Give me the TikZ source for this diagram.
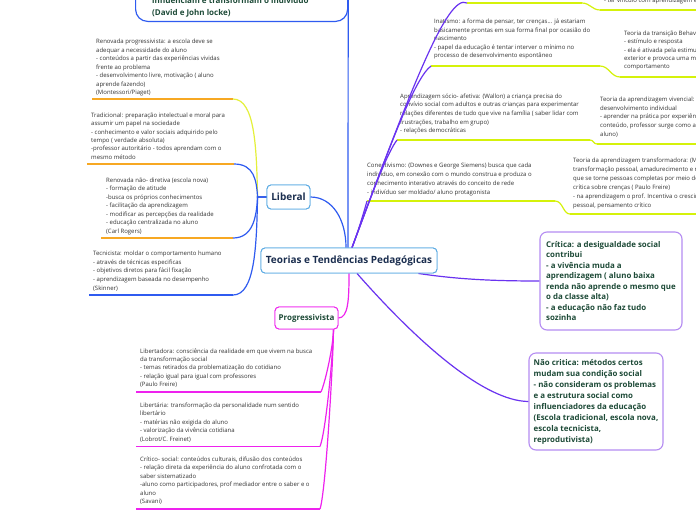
\documentclass[tikz,border=0pt]{standalone}
\usepackage{fontspec}
\setmainfont{Open Sans}
\usetikzlibrary{calc}
\definecolor{navy}{HTML}{1B2E4F}
\definecolor{dgreen}{HTML}{1D4A37}
\definecolor{txt}{HTML}{333333}
\definecolor{cblue}{HTML}{2F5BF0}
\definecolor{lblue}{HTML}{5AAAE3}
\definecolor{corange}{HTML}{F7A823}
\definecolor{cyel}{HTML}{E4F03A}
\definecolor{ygreen}{HTML}{D5F20A}
\definecolor{cmag}{HTML}{EE22EE}
\definecolor{cpurp}{HTML}{6A33F0}
\definecolor{lav}{HTML}{B58CF2}
\tikzset{
  detail/.style={anchor=north west, inner sep=0pt, align=left, text=txt, font=\fontsize{6}{#1}\selectfont},
  detail/.default=8.5,
  ul/.style={line width=1.8pt},
  conn/.style={line width=1.2pt},
  mainbox/.style={draw=lblue, line width=0.9pt, rounded corners=4pt, fill=white, text=navy,
    font=\bfseries\fontsize{10}{12}\selectfont, inner sep=0pt},
  progbox/.style={draw=cmag, line width=0.9pt, rounded corners=4pt, fill=white, text=dgreen,
    font=\bfseries\fontsize{8}{10}\selectfont, inner sep=0pt},
  critbox/.style={draw=lav, line width=1.1pt, rounded corners=7pt, fill=white, text=dgreen,
    align=left, font=\bfseries\fontsize{7.9}{#1}\selectfont, inner sep=0pt},
  critbox/.default=10.45
}
\begin{document}
\begin{tikzpicture}[x=1pt,y=-1pt]
\path[use as bounding box] (0,0) rectangle (696,520);
\clip (0,0) rectangle (696,520);
\fill[white] (0,0) rectangle (696,520);

% ---------- main nodes
\node[mainbox, minimum width=176pt, minimum height=25pt] (central) at (349,260.5) {Teorias e Tendências Pedagógicas};
\node[mainbox, minimum width=43pt, minimum height=24pt] (liberal) at (288.5,197) {Liberal};
\node[progbox, minimum width=63pt, minimum height=22pt] (prog) at (306.5,318) {Progressivista};

\node[critbox, minimum width=142pt, minimum height=98pt] (critica) at (611,281)
 {Crítica: a desigualdade social\\contribui\\- a vivência muda a\\aprendizagem ( aluno baixa\\renda não aprende o mesmo que\\o da classe alta)\\- a educação não faz tudo\\sozinha};
\node[critbox=11, minimum width=134pt, minimum height=97pt] (naocrit) at (596,401.5)
 {Não critica: métodos certos\\mudam sua condição social\\- não consideram os problemas\\e a estrutura social como\\influenciadores da educação\\(Escola tradicional, escola nova,\\escola tecnicista,\\reprodutivista)};

% top-left box (cut by the top edge)
\node[draw=cblue, line width=1.2pt, rounded corners=12pt, minimum width=212pt, minimum height=70pt,
      anchor=south west, inner sep=0pt] (topbox) at (135,22) {};
\node[anchor=north west, inner sep=0pt, align=left, text=dgreen, font=\bfseries\fontsize{8}{11.7}\selectfont]
  (toptext) at (152,-2.8) {influenciam e transformam o indivíduo\\(David e John locke)};

% ---------- Liberal children
\node[detail=8.45] (t1) at (96,39) {Renovada progressivista: a escola deve se\\adequar a necessidade do aluno\\- conteúdos a partir das experiências vividas\\frente ao problema\\- desenvolvimento livre, motivação ( aluno\\aprende fazendo)\\(Montessori/Piaget)};
\coordinate (u1a) at (92,99); \coordinate (u1b) at (233,99);
\node[detail=8.47] (t2) at (91,112.3) {Tradicional: preparação intelectual e moral para\\assumir um papel na sociedade\\- conhecimento e valor sociais adquirido pelo\\tempo ( verdade absoluta)\\-professor autoritário - todos aprendam com o\\mesmo método};
\coordinate (u2a) at (87,164); \coordinate (u2b) at (234,164);
\node[detail=8.45] (t3) at (106,177.6) {Renovada não- diretiva (escola nova)\\- formação de atitude\\-busca os próprios conhecimentos\\- facilitação da aprendizagem\\- modificar as percepções da realidade\\- educação centralizada no aluno\\(Carl Rogers)};
\coordinate (u3a) at (101,238); \coordinate (u3b) at (233,238);
\node[detail=8.75] (t4) at (93,250.6) {Tecnicista: moldar o comportamento humano\\- através de técnicas especificas\\- objetivos diretos para fácil fixação\\- aprendizagem baseada no desempenho\\(Skinner)};
\coordinate (u4a) at (89,295); \coordinate (u4b) at (233,295);

\draw[ul, corange] (u1a) -- (u1b);
\draw[ul, corange] (u2a) -- (u2b);
\draw[ul, corange] (u3a) -- (u3b);
\draw[ul, cblue] (u4a) -- (u4b);

\draw[conn, cyel] (liberal.west) -- ++(-9,0) .. controls +(-1,-49) and +(22,0) .. (u1b);
\draw[conn, cblue] (liberal.west) -- ++(-9,0) .. controls +(-1,-17) and +(20,0) .. (u2b);
\draw[conn, cblue] (liberal.west) -- ++(-9,0) .. controls +(-1,20) and +(20,0) .. (u3b);
\draw[conn, cblue] (liberal.west) -- ++(-9,0) .. controls +(-1,49) and +(22,0) .. (u4b);

% ---------- Progressivista children
\node[detail=8.3] (t5) at (140,348.3) {Libertadora: consciência da realidade em que vivem na busca\\da transformação social\\- temas retirados da problematização do cotidiano\\- relação igual para igual com professores\\(Paulo Freire)};
\coordinate (u5a) at (136,392); \coordinate (u5b) at (321,392);
\node[detail=8.6] (t6) at (140,402.3) {Libertária: transformação da personalidade num sentido\\libertário\\- matérias não exigida do aluno\\- valorização da vivência cotidiana\\(Lobrot/C. Freinet)};
\coordinate (u6a) at (136,446.5); \coordinate (u6b) at (320,446.5);
\node[detail=8.5] (t7) at (140,456.3) {Crítico- social: conteúdos culturais, difusão dos conteúdos\\- relação direta da experiência do aluno confrotada com o\\saber sistematizado\\-aluno como participadores, prof mediador entre o saber e o\\aluno\\(Savani)};
\coordinate (u7a) at (136,509); \coordinate (u7b) at (320,509);

\draw[ul, cmag] (u5a) -- (u5b);
\draw[ul, cmag] (u6a) -- (u6b);
\draw[ul, cmag] (u7a) -- (u7b);
\coordinate (ps) at ($(prog.south east)+(-5,0)$);
\draw[conn, cmag] (ps) .. controls +(0,15) and +(5,-12) .. (u5b);
\draw[conn, cmag] (ps) .. controls +(0,20) and +(6,-15) .. (u6b);
\draw[conn, cmag] (ps) .. controls +(0,25) and +(6,-18) .. (u7b);

% ---------- right side items
\node[detail=9.2] (t8) at (367,162.3) {Conectivismo: (Downes e George Siemens) busca que cada\\indivíduo, em conexão com o mundo construa e produza o\\conhecimento interativo através do conceito de rede\\- indivíduo ser moldado/ aluno protagonista};
\coordinate (u8a) at (367,201); \coordinate (u8b) at (555,201);
\node[detail=8.7] (t9) at (400,93.3) {Aprendizagem sócio- afetiva: (Wallon) a criança precisa do\\convívio social com adultos e outras crianças para experimentar\\relações diferentes de tudo que vive na família ( saber lidar com\\frustrações, trabalho em grupo)\\- relações democráticas};
\coordinate (u9a) at (397,140); \coordinate (u9b) at (590,140);
\node[detail=8.5] (t10) at (434,19) {Inatismo: a forma de pensar, ter crenças... já estariam\\basicamente prontas em sua forma final por ocasião do\\nascimento\\- papel da educação é tentar interver o mínimo no\\processo de desenvolvimento espontâneo};
\coordinate (u10a) at (431,66); \coordinate (u10b) at (600,66);
\coordinate (u15a) at (467,3); \coordinate (u15b) at (582,3);

\node[detail=8.35] (t11) at (624,30.6) {Teoria da transição Behaviorista\\- estímulo e resposta\\- ela é ativada pela estimulação\\exterior e provoca uma mudança de\\comportamento};
\coordinate (u11a) at (620,77); \coordinate (u11b) at (700,77);
\node[detail=8.6] (t12) at (600,97) {Teoria da aprendizagem vivencial:\\desenvolvimento individual\\- aprender na prática por experiência\\conteúdo, professor surge como aliado do\\aluno)};
\coordinate (u12a) at (597,144); \coordinate (u12b) at (700,144);
\node[detail=9] (t13) at (573,157.3) {Teoria da aprendizagem transformadora: (Mezirow)\\transformação pessoal, amadurecimento e reflexão\\que se torne pessoas completas por meio de reflexão\\crítica sobre crenças ( Paulo Freire)\\- na aprendizagem o prof. Incentiva o crescimento\\pessoal, pensamento crítico};
\coordinate (u13a) at (570,214); \coordinate (u13b) at (700,214);
\node[detail=8.5] (t14) at (604,-2.4) {- ter vínculo com aprendizagem e};
\coordinate (u14a) at (600,10); \coordinate (u14b) at (700,10);

\foreach \u in {8,9,10,11,12,13,14,15} {\draw[ul, ygreen] (u\u a) -- (u\u b);}
\draw[conn, ygreen] (u8b) .. controls +(8,0) and +(-7,0) .. (u13a);
\draw[conn, ygreen] (u9b) .. controls +(4,0) and +(-4,0) .. (u12a);
\draw[conn, ygreen] (u10b) .. controls +(9,0) and +(-9,0) .. (u11a);
\draw[conn, ygreen] (u15b) .. controls +(8,0) and +(-8,0) .. (u14a);

% ---------- connectors from the centre
\coordinate (cs) at ($(central.north)+(3,0)$);
\draw[conn, cpurp] (cs) .. controls (357,235) and (364,212) .. (u8a);
\draw[conn, cpurp] (cs) .. controls (375,185) and (388,152) .. (u9a);
\draw[conn, cpurp] (cs) .. controls (392,140) and (415,78) .. (u10a);
\draw[conn, cpurp] (cs) .. controls (407,100) and (447,-8) .. (u15a);
\draw[conn, cblue] ($(central.north)+(-1,0)$) -- (topbox.east);
\draw[conn, cblue] (liberal.east) .. controls +(22,0) and +(0,-28) .. ($(central.north)+(-3,0)$);
\draw[conn, cmag] (central.south) .. controls +(0,25) and +(10,0) .. (prog.east);
\draw[conn, cpurp] ($(central.south east)+(-19,0)$) .. controls +(40,6) and +(-45,0) .. (critica.west);
\draw[conn, cpurp] ($(central.south)+(8,0)$) .. controls (420,345) and (485,401) .. (naocrit.west);

% redraw boxes on top of connectors
\node[mainbox, minimum width=176pt, minimum height=25pt] at (central) {Teorias e Tendências Pedagógicas};
\node[mainbox, minimum width=43pt, minimum height=24pt] at (liberal) {Liberal};
\node[progbox, minimum width=63pt, minimum height=22pt] at (prog) {Progressivista};
\end{tikzpicture}
\end{document}
